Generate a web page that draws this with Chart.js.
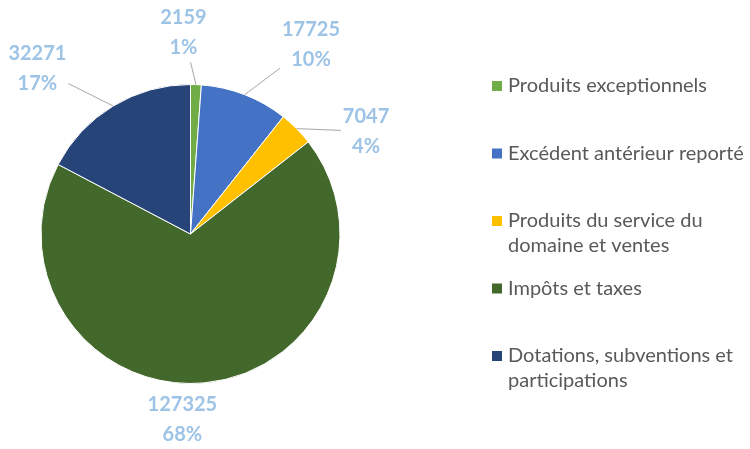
<!DOCTYPE html>
<html>
<head>
<meta charset="utf-8">
<script src="https://cdn.jsdelivr.net/npm/chart.js@4.4.1/dist/chart.umd.min.js"></script>
<style>
  body { margin: 0; background: #fff; }
  #wrap { width: 750px; height: 449px; }
</style>
</head>
<body>
<div id="wrap"><canvas id="pieChart" width="750" height="449"></canvas></div>
<script>
const categories = [
  "Produits exceptionnels",
  "Excédent antérieur reporté",
  "Produits du service du domaine et ventes",
  "Impôts et taxes",
  "Dotations, subventions et participations"
];
const values = [2159, 17725, 7047, 127325, 32271];
const sliceColors = ["#70AD47", "#4472C4", "#FFC000", "#43682B", "#264478"];

// where each value label sits: angle (deg, clockwise from top) and distance in radii
const labelPlace = [
  { angle: -2, dist: 1.35 },
  { angle: 32.5, dist: 1.5 },
  { angle: 59.7, dist: 1.36 },
  { angle: 182.5, dist: 1.24 },
  { angle: -42.7, dist: 1.51 }
];

const LABEL_FONT = "bold 20px Lato";
const LABEL_LINE = 30;
const LEGEND_FONT = "20px Lato";

const total = values.reduce((s, v) => s + v, 0);

const sliceLabels = {
  id: "sliceLabels",
  afterDatasetsDraw(chart) {
    const ctx = chart.ctx;
    const meta = chart.getDatasetMeta(0);
    ctx.save();
    ctx.font = LABEL_FONT;
    meta.data.forEach((arc, i) => {
      const { x, y, startAngle, endAngle, outerRadius } =
        arc.getProps(["x", "y", "startAngle", "endAngle", "outerRadius"], true);
      const place = labelPlace[i];
      const a = (place.angle - 90) * Math.PI / 180;
      const cx = x + Math.cos(a) * outerRadius * place.dist;
      const cy = y + Math.sin(a) * outerRadius * place.dist;
      const lines = [String(values[i]), Math.round(values[i] / total * 100) + "%"];
      const w = Math.max(...lines.map((l) => ctx.measureText(l).width)) + 4;
      const h = LABEL_LINE * lines.length;
      const bx0 = cx - w / 2, bx1 = cx + w / 2, by0 = cy - h / 2, by1 = cy + h / 2;

      // leader line from slice edge to label box
      const mid = (startAngle + endAngle) / 2;
      const px = x + Math.cos(mid) * outerRadius;
      const py = y + Math.sin(mid) * outerRadius;
      const dx = cx - px, dy = cy - py;
      let tx = -Infinity, ty = -Infinity;
      if (dx !== 0) tx = Math.min((bx0 - px) / dx, (bx1 - px) / dx);
      if (dy !== 0) ty = Math.min((by0 - py) / dy, (by1 - py) / dy);
      const t = Math.max(tx, ty);
      const ex = px + dx * t, ey = py + dy * t;
      if (Math.hypot(ex - px, ey - py) > 12) {
        ctx.strokeStyle = "#A6A6A6";
        ctx.lineWidth = 1;
        ctx.beginPath();
        ctx.moveTo(px, py);
        ctx.lineTo(ex, ey);
        ctx.stroke();
      }

      ctx.fillStyle = "#9DC3E6";
      ctx.textAlign = "center";
      ctx.textBaseline = "middle";
      lines.forEach((l, k) => {
        ctx.fillText(l, cx, by0 + LABEL_LINE * (k + 0.5));
      });
    });
    ctx.restore();
  }
};

function wrapText(ctx, text, maxW) {
  const words = text.split(" ");
  const out = [];
  let cur = "";
  words.forEach((wd) => {
    const test = cur ? cur + " " + wd : wd;
    if (ctx.measureText(test).width > maxW && cur) {
      out.push(cur);
      cur = wd;
    } else {
      cur = test;
    }
  });
  if (cur) out.push(cur);
  return out;
}

const sideLegend = {
  id: "sideLegend",
  afterDraw(chart) {
    const ctx = chart.ctx;
    const x0 = 492, y0 = 86, pitch = 67.5, lineH = 25, box = 10;
    ctx.save();
    ctx.font = LEGEND_FONT;
    ctx.textBaseline = "middle";
    ctx.textAlign = "left";
    categories.forEach((cat, i) => {
      const yc = y0 + pitch * i;
      ctx.fillStyle = sliceColors[i];
      ctx.fillRect(x0, yc - box / 2, box, box);
      ctx.fillStyle = "#595959";
      wrapText(ctx, cat, 250).forEach((l, k) => {
        ctx.fillText(l, x0 + 16, yc + k * lineH);
      });
    });
    ctx.restore();
  }
};

new Chart(document.getElementById("pieChart"), {
  type: "pie",
  data: {
    labels: categories,
    datasets: [
      {
        data: values,
        backgroundColor: sliceColors,
        borderColor: "#ffffff",
        borderWidth: 1
      }
    ]
  },
  options: {
    responsive: false,
    animation: false,
    layout: {
      padding: { top: 84, bottom: 65, left: 40, right: 409 }
    },
    plugins: {
      legend: { display: false },
      tooltip: { enabled: false }
    }
  },
  plugins: [sliceLabels, sideLegend]
});
</script>
</body>
</html>
